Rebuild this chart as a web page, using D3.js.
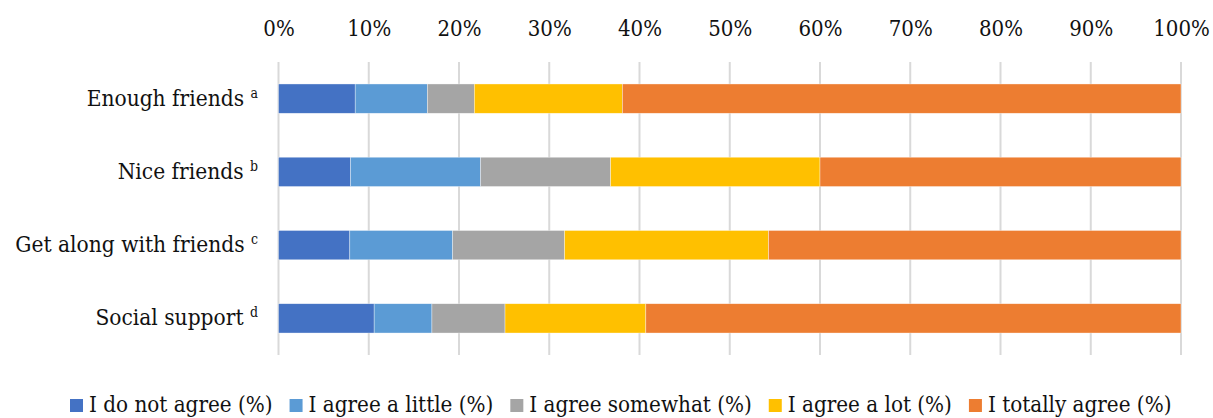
<!DOCTYPE html>
<html>
<head>
<meta charset="utf-8">
<script src="https://cdn.jsdelivr.net/npm/d3@7"></script>
<style>
  html, body { margin: 0; padding: 0; background: #fff; }
  svg text { font-family: "DejaVu Serif Condensed", "DejaVu Serif", serif; font-stretch: condensed; fill: #111; }
</style>
</head>
<body>
<svg id="chart" width="1213" height="418"></svg>
<script>
const categories = ["Enough friends", "Nice friends", "Get along with friends", "Social support"];
const superscripts = ["a", "b", "c", "d"];
const seriesNames = ["I do not agree (%)", "I agree a little (%)", "I agree somewhat (%)", "I agree a lot (%)", "I totally agree (%)"];
const doNotAgree    = [8.5, 8.0, 7.9, 10.6];
const agreeLittle   = [8.0, 14.4, 11.4, 6.4];
const agreeSomewhat = [5.2, 14.4, 12.4, 8.1];
const agreeLot      = [16.4, 23.2, 22.6, 15.6];
const totallyAgree  = [61.9, 40.0, 45.7, 59.3];
const tickValues = [0, 10, 20, 30, 40, 50, 60, 70, 80, 90, 100];
const colors = ["#4472C4", "#5B9BD5", "#A5A5A5", "#FFC000", "#ED7D31"];

const FONT = '"DejaVu Serif Condensed", "DejaVu Serif", serif';

const seriesValues = [doNotAgree, agreeLittle, agreeSomewhat, agreeLot, totallyAgree];
const rows = categories.map((c, i) => {
  const r = { cat: c };
  seriesNames.forEach((s, j) => r[s] = seriesValues[j][i]);
  return r;
});
const stacked = d3.stack().keys(seriesNames)(rows);

const svg = d3.select("#chart");
const x = d3.scaleLinear().domain([0, 100]).range([278.5, 1181]);
const y = d3.scaleBand().domain(categories).range([62, 355]).paddingInner(0.6).paddingOuter(0.3);

function measure(str, size) {
  const t = svg.append("text").attr("font-size", size).style("font-family", FONT).text(str);
  const w = t.node().getComputedTextLength();
  t.remove();
  return w;
}

// gridlines
svg.append("g").selectAll("line").data(tickValues).join("line")
  .attr("x1", d => x(d)).attr("x2", d => x(d))
  .attr("y1", 62).attr("y2", 355)
  .attr("stroke", "#D9D9D9").attr("stroke-width", 2);

// top axis labels
const tickSize = Math.min(22, 22 * 60 / measure("100%", 22));
const xAxis = d3.axisTop(x).tickValues(tickValues).tickFormat(d => d + "%").tickSize(0).tickPadding(0);
const gx = svg.append("g").attr("transform", "translate(0,36)").call(xAxis);
gx.attr("font-family", FONT);
gx.select(".domain").remove();
gx.selectAll("text").attr("font-size", tickSize).attr("fill", "#111")
  .style("font-family", FONT).attr("dy", 0);

// bars
svg.append("g").selectAll("g").data(stacked).join("g")
  .attr("fill", (d, i) => colors[i])
  .selectAll("rect").data(d => d).join("rect")
  .attr("x", d => x(d[0]))
  .attr("width", d => x(d[1]) - x(d[0]))
  .attr("y", d => y(d.data.cat))
  .attr("height", y.bandwidth())
  .attr("stroke", "#fff").attr("stroke-width", 0.6).attr("stroke-opacity", 0.6);

// category labels
const catSize = Math.min(22.5, 22 * 236 / measure("Get along with friends", 22));
const labels = svg.append("g").selectAll("text").data(categories).join("text")
  .attr("x", 258)
  .attr("y", d => y(d) + y.bandwidth() / 2 + 7)
  .attr("text-anchor", "end")
  .style("font-family", FONT)
  .attr("font-size", catSize);
labels.append("tspan").text(d => d + " ");
labels.append("tspan").text((d, i) => superscripts[i])
  .attr("font-size", catSize * 0.62).attr("dy", -8);

// legend
const sq = 13, gapIn = 6, gapOut = 17;
const baseW = seriesNames.reduce((a, s) => a + measure(s, 22), 0);
const fixed = seriesNames.length * (sq + gapIn) + (seriesNames.length - 1) * gapOut;
const legSize = Math.min(24, 22 * (1172 - 70 - fixed) / baseW);
const legendY = 412;
const legend = svg.append("g");
let lx = 70;
seriesNames.forEach((s, i) => {
  const g = legend.append("g");
  g.append("rect").attr("x", lx).attr("y", legendY - 13).attr("width", sq).attr("height", sq).attr("fill", colors[i]);
  const t = g.append("text").attr("x", lx + sq + gapIn).attr("y", legendY).attr("font-size", legSize)
    .style("font-family", FONT).text(s);
  const w = t.node().getComputedTextLength();
  lx = lx + sq + gapIn + w + gapOut;
});
</script>
</body>
</html>
